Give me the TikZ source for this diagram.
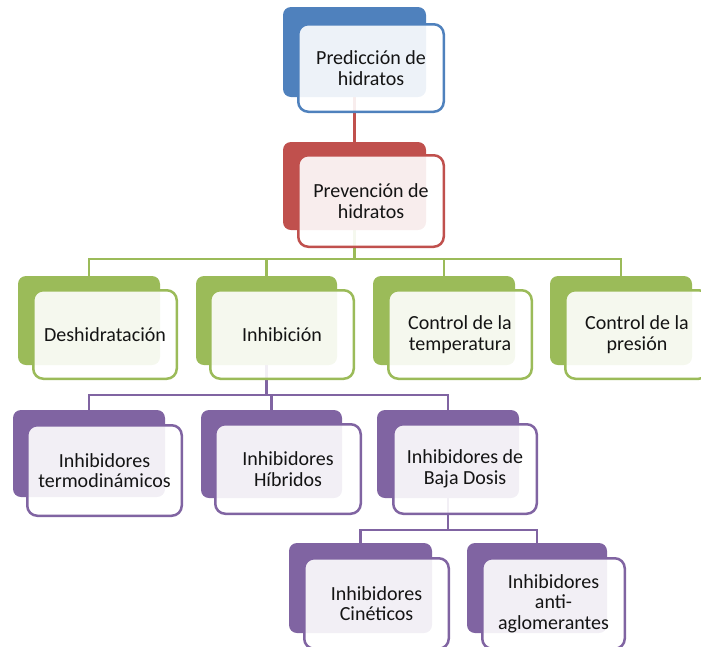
\documentclass[tikz,border=0pt]{standalone}
\usepackage{fontspec}
\setmainfont{Carlito}
\usetikzlibrary{backgrounds,calc}
\definecolor{cblue}{HTML}{4F81BD}
\definecolor{cred}{HTML}{C0504D}
\definecolor{cgreen}{HTML}{9BBB59}
\definecolor{cpurple}{HTML}{8064A2}
\definecolor{ctext}{HTML}{141414}
\tikzset{
  backbox/.style={draw=none, fill=#1, rounded corners=8pt, inner sep=0pt, outer sep=0pt},
  frontbox/.style={draw=#1, line width=2.5pt, fill=white, fill opacity=0.9, text opacity=1,
    rounded corners=10pt, inner sep=0pt, outer sep=0pt, align=center, text=ctext,
    font=\fontsize{20}{20.5}\selectfont},
  conn/.style={draw=#1, line width=2.5pt}
}
\begin{document}
\begin{tikzpicture}[x=1pt,y=-1pt]
\useasboundingbox (0,0) rectangle (701,646);
% back boxes
\node[backbox=cblue,   minimum width=143pt, minimum height=90pt] (pred)  at (354.5,52) {};
\node[backbox=cred,    minimum width=143pt, minimum height=88pt] (prev)  at (354.5,186) {};
\node[backbox=cgreen,  minimum width=142pt, minimum height=89pt] (desh)  at (89,320.5) {};
\node[backbox=cgreen,  minimum width=141pt, minimum height=89pt] (inhib) at (266.5,320.5) {};
\node[backbox=cgreen,  minimum width=142pt, minimum height=89pt] (ctemp) at (444,320.5) {};
\node[backbox=cgreen,  minimum width=142pt, minimum height=89pt] (cpres) at (621,320.5) {};
\node[backbox=cpurple, minimum width=152pt, minimum height=87pt] (termo) at (89,453.5) {};
\node[backbox=cpurple, minimum width=141pt, minimum height=88pt] (hibr)  at (271.5,454) {};
\node[backbox=cpurple, minimum width=142pt, minimum height=88pt] (baja)  at (448,454) {};
\node[backbox=cpurple, minimum width=143pt, minimum height=90pt] (cinet) at (360.5,588) {};
\node[backbox=cpurple, minimum width=140pt, minimum height=90pt] (anti)  at (537,588) {};
% connectors (behind)
\begin{pgfonlayer}{background}
\draw[conn=cred] (pred.south) -- (prev.north);
\coordinate (b1) at ($(prev.south)+(0,29)$);
\draw[conn=cgreen] (prev.south) -- (b1);
\draw[conn=cgreen] (desh.north) |- (b1) -| (cpres.north);
\draw[conn=cgreen] (inhib.north) -- (inhib.north |- b1);
\draw[conn=cgreen] (ctemp.north) -- (ctemp.north |- b1);
\coordinate (b2) at ($(inhib.south)+(0,30)$);
\draw[conn=cpurple] (inhib.south) -- (b2);
\draw[conn=cpurple] (termo.north) |- (b2) -| (baja.north);
\draw[conn=cpurple] (hibr.north) -- (hibr.north |- b2);
\coordinate (b3) at ($(baja.south)+(0,32)$);
\draw[conn=cpurple] (baja.south) -- (b3);
\draw[conn=cpurple] (cinet.north) |- (b3) -| (anti.north);
\end{pgfonlayer}
% front boxes
\node[frontbox=cblue,   minimum width=145.5pt, minimum height=87.5pt] (predf)  at (371,68) {Predicción de\\hidratos};
\node[frontbox=cred,    minimum width=145.5pt, minimum height=91.5pt] (prevf)  at (371,201) {Prevención de\\hidratos};
\node[frontbox=cgreen,  minimum width=143.5pt, minimum height=88.5pt] (deshf)  at (105,334.5) {Deshidratación};
\node[frontbox=cgreen,  minimum width=143.5pt, minimum height=88.5pt] (inhibf) at (282,334.5) {Inhibición};
\node[frontbox=cgreen,  minimum width=143.5pt, minimum height=88.5pt] (ctempf) at (460,334.5) {Control de la\\temperatura};
\node[frontbox=cgreen,  minimum width=143.5pt, minimum height=88.5pt] (cpresf) at (637,334.5) {Control de la\\presión};
\node[frontbox=cpurple, minimum width=154.5pt, minimum height=90.5pt] (termof) at (104.5,470.5) {Inhibidores\\termodinámicos};
\node[frontbox=cpurple, minimum width=145.5pt, minimum height=89.5pt] (hibrf)  at (288,469) {Inhibidores\\Híbridos};
\node[frontbox=cpurple, minimum width=143.5pt, minimum height=89.5pt] (bajaf)  at (465,469) {Inhibidores de\\Baja Dosis};
\node[frontbox=cpurple, minimum width=144.5pt, minimum height=90.5pt] (cinetf) at (376.5,603.5) {Inhibidores\\Cinéticos};
\node[frontbox=cpurple, minimum width=142.5pt, minimum height=90.5pt] (antif)  at (553.5,603.5) {Inhibidores\\anti-\\aglomerantes};
\end{tikzpicture}
\end{document}
